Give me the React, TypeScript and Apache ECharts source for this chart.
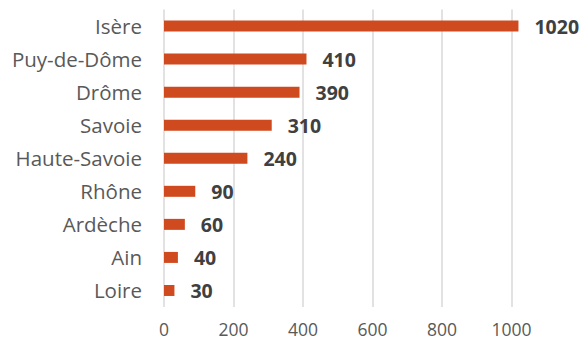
import React, { useEffect, useRef } from "react";
import * as echarts from "echarts";

const categories = ["Isère", "Puy-de-Dôme", "Drôme", "Savoie", "Haute-Savoie", "Rhône", "Ardèche", "Ain", "Loire"];
const values = [1020, 410, 390, 310, 240, 90, 60, 40, 30];
const xTicks = [0, 200, 400, 600, 800, 1000];

export default function App() {
  const ref = useRef<HTMLDivElement>(null);
  useEffect(() => {
    document.body.style.margin = "0";
    const chart = echarts.init(ref.current!, null, { renderer: "svg" });
    chart.setOption({
      animation: false,
      backgroundColor: "#ffffff",
      grid: { left: 164, right: 72.5, top: 9.5, bottom: 34 },
      xAxis: {
        type: "value",
        min: xTicks[0],
        max: xTicks[xTicks.length - 1],
        interval: 200,
        axisLine: { show: false },
        axisTick: { show: false },
        splitLine: { show: true, lineStyle: { color: "#d9d9d9", width: 1.5 } },
        axisLabel: {
          color: "#595959",
          fontSize: 17.5,
          lineHeight: 14,
          fontFamily: "Open Sans",
          margin: 14.5,
          formatter: (v: number) => String(v),
        },
      },
      yAxis: {
        type: "category",
        data: categories,
        inverse: true,
        axisLine: { show: false },
        axisTick: { show: false },
        axisLabel: { color: "#595959", fontSize: 20.5, fontFamily: "Open Sans", margin: 22 },
      },
      series: [
        {
          type: "bar",
          data: values,
          barWidth: 11,
          clip: false,
          itemStyle: { color: "#cf4a1e" },
          label: {
            show: true,
            position: "right",
            distance: 16,
            color: "#404040",
            fontSize: 19.5,
            fontWeight: "bold",
            fontFamily: "Open Sans",
          },
        },
      ],
    });
    return () => chart.dispose();
  }, []);
  return <div ref={ref} style={{ position: "absolute", left: 0, top: 0, width: 584, height: 341 }} />;
}
